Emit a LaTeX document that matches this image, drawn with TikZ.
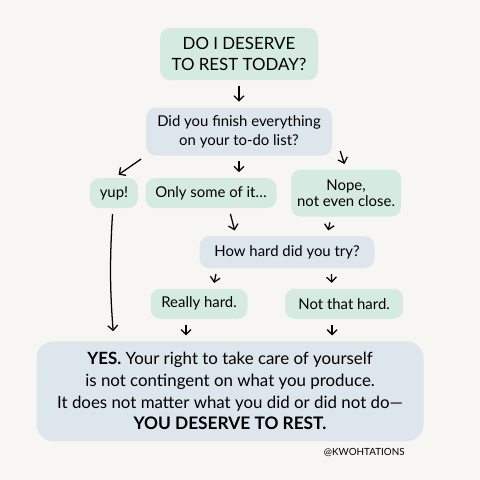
\documentclass[tikz,border=0pt]{standalone}
\usepackage{fontspec}
\setmainfont{Lato}
\usetikzlibrary{positioning,arrows.meta,calc}
\definecolor{paper}{HTML}{F7F6F3}
\definecolor{mint}{HTML}{D6EBDF}
\definecolor{mist}{HTML}{DDE6EC}
\tikzset{
	auto, thick,% shared look of the whole sheet
	arr/.style = {-{Straight Barb[length=3.5pt,width=7pt]}, line width=0.9pt, shorten <=4pt, shorten >=4pt}
}
\begin{document}
\begin{tikzpicture}
            \tikzset{my node/.style = {rectangle, rounded corners=7pt, inner sep=2pt, align=center, font=\fontsize{10.6}{13.5}\selectfont}}
            \tikzset{green node/.style = {my node, fill=mint}}
            \tikzset{blue node/.style = {my node, fill=mist}}
            \fill[paper] (0,0) rectangle (12,-12);
            \node[green node, minimum width=3.95cm, minimum height=1.3cm, font=\fontsize{12}{15}\selectfont] (1) at (5.975,-1.35) {DO I DESERVE\\TO REST TODAY?};
            \node[blue node, minimum width=4.65cm, minimum height=1.2cm] (2) [below=0.675 of 1]{Did you finish everything\\on your to-do list?};
            \node[green node, minimum width=3.275cm, minimum height=0.75cm] (4) [below=0.55 of 2, xshift=-0.7cm]{Only some of it\ldots};
            \node[green node, minimum width=1.2cm, minimum height=0.75cm] (3) [left=0.175 of 4]{yup!};
            \node[green node, minimum width=2.75cm, minimum height=1.175cm, font=\fontsize{10.6}{11.5}\selectfont] (5) [right=0.35 of 4]{Nope,\\not even close.};
            \node[blue node, minimum width=4.375cm, minimum height=0.8cm] (6) [below=0.475 of 5, xshift=-1.475cm]{How hard did you try?};
            \node[green node, minimum width=2.425cm, minimum height=0.75cm] (7) [below=0.5 of 6, xshift=-2.2cm]{Really hard.};
            \node[green node, minimum width=2.95cm, minimum height=0.75cm] (8) [right=0.925 of 7]{Not that hard.};
            \node[blue node, minimum width=9.675cm, minimum height=2.5cm, rounded corners=12pt, font=\fontsize{12}{15.4}\selectfont] (9) [below=0.55 of 7, xshift=0.775cm]{\textbf{YES.} Your right to take care of yourself\\is not contingent on what you produce.\\It does not matter what you did or did not do---\\{\fontsize{12.3}{15.4}\selectfont\bfseries YOU DESERVE TO REST.}};
            \node[inner sep=0pt, font=\fontsize{7}{8}\selectfont] (10) [below left=0.15 and 0.475 of 9.south east]{@KWOHTATIONS};
            \draw[arr] (1) -- (2);
            \draw[arr] (2.south west) -- (3.north);
            \draw[arr] (2) -- (2 |- 4.north);
            \draw[arr, shorten <=0pt] ([xshift=0.2cm,yshift=0.12cm]2.south east) -- (5.north);
            \draw[arr] ([xshift=0.45cm]4.south) -- ([xshift=-1.275cm]6.north);
            \draw[arr] ([xshift=-0.375cm]5.south) -- ([xshift=1cm]6.north);
            \draw[arr] ([xshift=-1.75cm]6.south) -- ([xshift=0.35cm]7.north);
            \draw[arr] ([xshift=1.1cm]6.south) -- ([xshift=-0.3cm]8.north);
            \draw[arr] ($(7.south)+(-0.325,0)$) -- ($(7.south |- 9.north)+(-0.325,0)$);
            \draw[arr] ($(8.south)+(-0.3,0)$) -- ($(8.south |- 9.north)+(-0.3,0)$);
            \draw[arr, shorten >=7pt] (3) to[bend right=4] (3 |- 9.north);
        \end{tikzpicture}
\end{document}
